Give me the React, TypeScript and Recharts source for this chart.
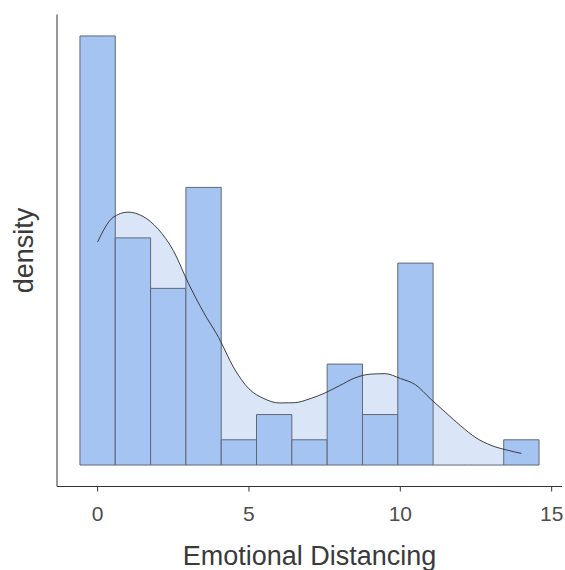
import React from 'react';
import { ComposedChart, XAxis, YAxis, Area, Line, ReferenceArea, ReferenceLine, Label } from 'recharts';

// Histogram of "Emotional Distancing" (13 bins centred on 0 … 14)
const binCenters = [0, 1.1667, 2.3333, 3.5, 4.6667, 5.8333, 7, 8.1667, 9.3333, 10.5, 11.6667, 12.8333, 14];
const binCounts = [17, 9, 7, 11, 1, 2, 1, 4, 2, 8, 0, 0, 1];

// Kernel density estimate (read in count units, converted to density below)
const densityX = [0, 0.5, 1, 1.5, 2, 2.5, 3, 3.5, 4, 4.5, 5, 5.5, 6, 6.5, 7, 7.5, 8, 8.5, 9, 9.5, 10, 10.5, 11, 11.5, 12, 12.5, 13, 13.5, 14];
const densityCounts = [8.84, 9.8, 10.02, 9.85, 9.35, 8.5, 7.2, 6.05, 5.05, 3.85, 3.02, 2.63, 2.46, 2.47, 2.62, 2.85, 3.15, 3.45, 3.6, 3.62, 3.43, 3.18, 2.62, 2.08, 1.55, 1.08, 0.78, 0.6, 0.46];

const xTicks = [0, 5, 10, 15];

const N = binCounts.reduce((a, b) => a + b, 0);
const BW = binCenters[1] - binCenters[0];
const toDensity = (c: number) => c / (N * BW);

const bins = binCenters.map((c, i) => ({ x1: c - BW / 2, x2: c + BW / 2, d: toDensity(binCounts[i]) }));
const densityData = densityX.map((x, i) => ({ x, d: toDensity(densityCounts[i]) }));

const xMin = bins[0].x1;
const xMax = bins[bins.length - 1].x2;
const xPad = (xMax - xMin) * 0.05;
const yMax = Math.max(...bins.map((b) => b.d), ...densityData.map((p) => p.d));
const yPad = yMax * 0.05;

const FONT = '"Liberation Sans", Arial, sans-serif';
const BAR_FILL = '#a6c4f1';
const BAR_STROKE = '#5f6977';
const DENS_FILL = '#dae6f7';

export default function App() {
  return (
    <div style={{ position: 'absolute', left: 0, top: 0, background: '#fff' }}>
      <ComposedChart
        width={565}
        height={570}
        data={densityData}
        margin={{ top: 14.5, right: 3, bottom: 43.5, left: 0 }}
      >
        <XAxis
          type="number"
          dataKey="x"
          domain={[xMin - xPad, xMax + xPad]}
          allowDataOverflow
          ticks={xTicks}
          height={40}
          tickSize={5}
          tickMargin={15}
          axisLine={{ stroke: '#333333', strokeWidth: 1 }}
          tickLine={{ stroke: '#333333', strokeWidth: 1 }}
          tick={{ fill: '#4d4d4d', fontSize: 21, fontFamily: FONT }}
          label={
            <Label
              content={(props: any) => {
                const vb = props.viewBox || { x: 57, y: 486.5, width: 505, height: 40 };
                return (
                  <text
                    x={vb.x + vb.width / 2}
                    y={vb.y + 78.5}
                    textAnchor="middle"
                    fill="#3a3a3a"
                    fontSize={27}
                    fontFamily={FONT}
                  >
                    Emotional Distancing
                  </text>
                );
              }}
            />
          }
        />
        <YAxis
          type="number"
          domain={[-yPad, yMax + yPad]}
          allowDataOverflow
          width={57}
          tick={false}
          tickLine={false}
          axisLine={{ stroke: '#333333', strokeWidth: 1 }}
          label={
            <Label
              content={(props: any) => {
                const vb = props.viewBox || { x: 0, y: 14.5, width: 57, height: 472 };
                const cx = vb.x + 33;
                const cy = vb.y + vb.height / 2;
                return (
                  <text
                    x={cx}
                    y={cy}
                    transform={`rotate(-90, ${cx}, ${cy})`}
                    textAnchor="middle"
                    fill="#3a3a3a"
                    fontSize={27}
                    fontFamily={FONT}
                  >
                    density
                  </text>
                );
              }}
            />
          }
        />
        <Area
          type="monotone"
          dataKey="d"
          baseValue={0}
          stroke="none"
          fill={DENS_FILL}
          fillOpacity={1}
          isAnimationActive={false}
          dot={false}
          activeDot={false}
        />
        {bins.map((b, i) =>
          b.d > 0 ? (
            <ReferenceArea
              key={`bin-${i}`}
              x1={b.x1}
              x2={b.x2}
              y1={0}
              y2={b.d}
              fill={BAR_FILL}
              fillOpacity={1}
              stroke={BAR_STROKE}
              strokeWidth={1}
            />
          ) : (
            <ReferenceLine
              key={`bin-${i}`}
              segment={[
                { x: b.x1, y: 0 },
                { x: b.x2, y: 0 },
              ]}
              stroke={BAR_STROKE}
              strokeWidth={1}
            />
          )
        )}
        <Line
          type="monotone"
          dataKey="d"
          stroke="#2b2b2b"
          strokeWidth={0.9}
          dot={false}
          activeDot={false}
          isAnimationActive={false}
        />
      </ComposedChart>
    </div>
  );
}
